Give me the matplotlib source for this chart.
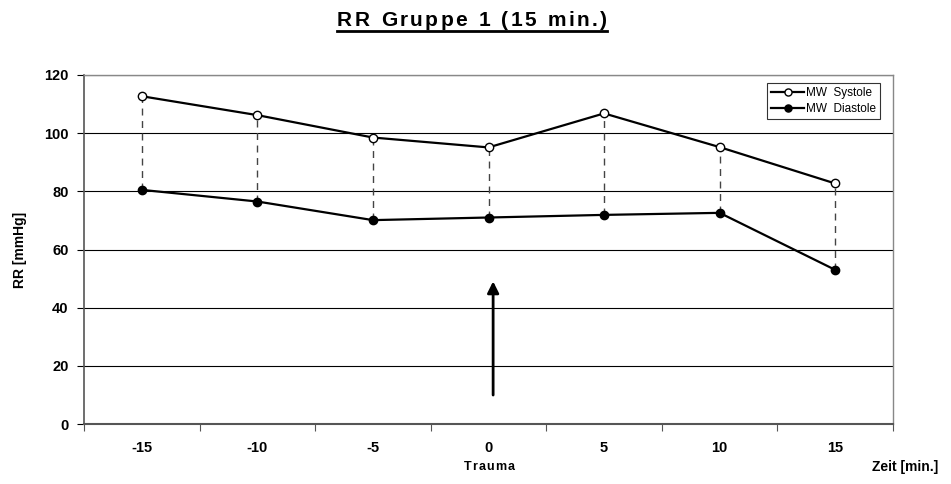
import matplotlib
matplotlib.use("Agg")
import matplotlib.pyplot as plt
from matplotlib.lines import Line2D
import numpy as np

plt.rcParams['font.family'] = ['Liberation Sans', 'DejaVu Sans']

categories = ["-15", "-10", "-5", "0", "5", "10", "15"]
systole = [112.7, 106.2, 98.5, 95.1, 106.8, 95.2, 82.7]
diastole = [80.5, 76.5, 70.1, 71.0, 71.9, 72.6, 53.0]
yticks = [0, 20, 40, 60, 80, 100, 120]
arrow_x = 3.04
arrow_from, arrow_to = 9, 50

W, H = 951, 484
fig = plt.figure(figsize=(W/100, H/100), dpi=100)
ax = fig.add_axes([84/W, 1-424/H, (893-84)/W, (424-75)/H])

x = np.arange(len(categories))
ax.set_xlim(-0.5, len(categories)-0.5)
ax.set_ylim(0, 120)

for v in yticks[1:]:
    ax.axhline(v, color='black', lw=0.8, zorder=1)

for xi, s, d in zip(x, systole, diastole):
    ax.plot([xi, xi], [d, s], color='#444444', lw=1.0, ls=(0, (5, 4)), zorder=2)

ax.plot(x, systole, '-o', color='black', lw=1.6, ms=6, mfc='white', mec='black', mew=1.0,
        label='MW  Systole', zorder=3)
ax.plot(x, diastole, '-o', color='black', lw=1.6, ms=6, mfc='black', mec='black', mew=1.0,
        label='MW  Diastole', zorder=3)

ax.annotate('', xy=(arrow_x, arrow_to), xytext=(arrow_x, arrow_from),
            arrowprops=dict(arrowstyle='-|>', color='black', lw=2, mutation_scale=17))

ax.set_xticks(np.arange(-0.5, len(categories), 1))
ax.set_xticklabels([])
ax.set_xticks(x, minor=True)
ax.set_xticklabels(categories, minor=True, fontsize=10.5, fontweight='bold')
ax.tick_params(axis='x', which='major', direction='out', length=5, width=0.8, color='#555555')
ax.tick_params(axis='x', which='minor', length=0, pad=12)
ax.set_yticks(yticks)
ax.set_yticklabels([str(v) for v in yticks], fontsize=10.5, fontweight='bold')
ax.tick_params(axis='y', direction='out', length=5, width=0.8, pad=6)

for sp in ['top', 'right']:
    ax.spines[sp].set_color('#888888')
    ax.spines[sp].set_linewidth(1)
ax.spines['left'].set_color('#555555')
ax.spines['bottom'].set_color('#555555')
ax.spines['bottom'].set_linewidth(1.5)
ax.spines['left'].set_linewidth(1.2)

ax.set_ylabel('RR [mmHg]', fontsize=10, fontweight='bold')
ax.yaxis.set_label_coords(-0.07, 0.5)

fig.text(905/W, 1-467/H, 'Zeit [min.]', ha='center', va='center', fontsize=10, fontweight='bold')

leg = ax.legend(loc='upper right', bbox_to_anchor=(0.9835, 0.977), fontsize=8.5, frameon=True,
                fancybox=False, edgecolor='black', handlelength=2.8, borderpad=0.35,
                labelspacing=0.3, handletextpad=0.1, borderaxespad=0, markerscale=0.85)
leg.get_frame().set_linewidth(0.8)

fig.canvas.draw()
renderer = fig.canvas.get_renderer()


def tracked_text(s, xc, yc, size, track):
    """Draw text centred at pixel (xc, yc) with extra spacing of `track` px between letters."""
    widths = []
    for ch in s:
        t = fig.text(0, 0, ch if ch != ' ' else 'n', fontsize=size, fontweight='bold')
        w = t.get_window_extent(renderer).width
        if ch == ' ':
            w *= 0.5
        widths.append(w)
        t.remove()
    total = sum(widths) + track * (len(s) - 1)
    xp = xc - total / 2
    for ch, w in zip(s, widths):
        if ch != ' ':
            fig.text(xp / W, 1 - yc / H, ch, fontsize=size, fontweight='bold', ha='left', va='center')
        xp += w + track
    return xc - total / 2, xc + total / 2


x0, x1 = tracked_text('RR Gruppe 1 (15 min.)', 472, 20, 15, 2.4)
fig.add_artist(Line2D([x0 / W, x1 / W], [1 - 31 / H, 1 - 31 / H], color='black', lw=2,
                      transform=fig.transFigure))
tracked_text('Trauma', 489, 467, 9, 1.0)

fig.savefig('out.png', dpi=100)
